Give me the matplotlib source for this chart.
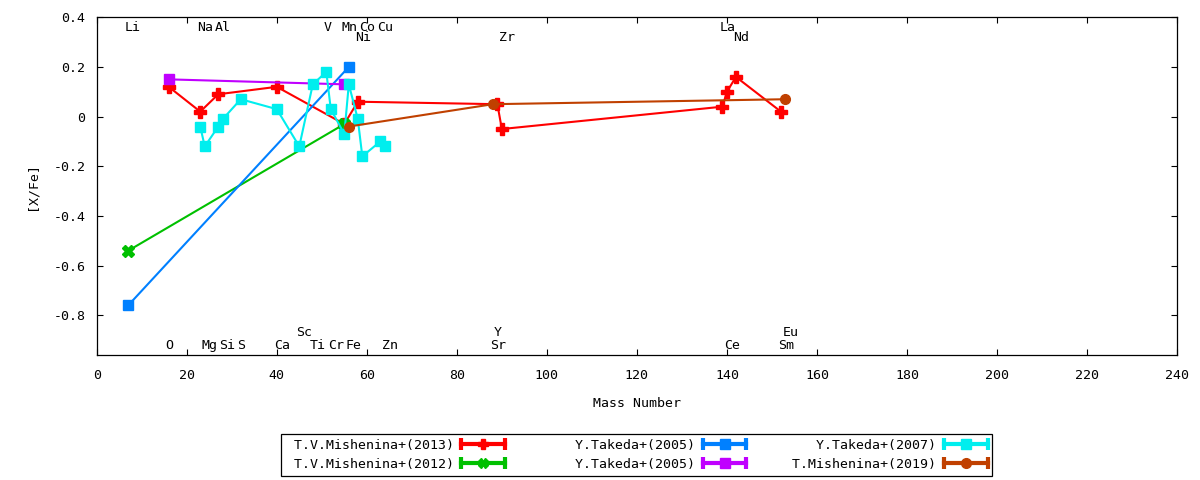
import matplotlib
matplotlib.use('Agg')
import matplotlib.pyplot as plt
from matplotlib.lines import Line2D
from matplotlib.legend_handler import HandlerBase

plt.rcParams['font.family'] = ['DejaVu Sans Mono']
plt.rcParams['font.size'] = 9.5

# abundance data: mass number vs [X/Fe]
mish13_mass = [16, 23, 27, 40, 55, 58, 89, 90, 139, 140, 142, 152]
mish13_val = [0.12, 0.02, 0.09, 0.12, -0.03, 0.06, 0.05, -0.05, 0.04, 0.10, 0.16, 0.02]

mish12_mass = [7, 55]
mish12_val = [-0.54, -0.03]

takeda05a_mass = [7, 56]
takeda05a_val = [-0.76, 0.20]

takeda05b_mass = [16, 55]
takeda05b_val = [0.15, 0.13]

takeda07_mass = [23, 24, 27, 28, 32, 40, 45, 48, 51, 52, 55, 56, 58, 59, 63, 64]
takeda07_val = [-0.04, -0.12, -0.04, -0.01, 0.07, 0.03, -0.12, 0.13, 0.18, 0.03,
                -0.07, 0.13, -0.01, -0.16, -0.10, -0.12]

mish19_mass = [56, 88, 153]
mish19_val = [-0.04, 0.05, 0.07]

# element labels, one list per row (name, mass number)
top_row1 = [('Li', 7), ('Na', 23), ('Al', 27), ('V', 51), ('Mn', 55), ('Co', 59), ('Cu', 63), ('La', 139)]
top_row2 = [('Ni', 58), ('Zr', 90), ('Nd', 142)]
bot_row1 = [('Sc', 45), ('Y', 89), ('Eu', 153)]
bot_row2 = [('O', 16), ('Mg', 24), ('Si', 28), ('S', 32), ('Ca', 40), ('Ti', 48), ('Cr', 52),
            ('Fe', 56), ('Zn', 64), ('Sr', 88), ('Ce', 140), ('Sm', 152)]


class CapHandler(HandlerBase):
    # gnuplot-like key sample: line with end caps and a centre marker
    def create_artists(self, legend, orig_handle, xdescent, ydescent,
                       width, height, fontsize, trans):
        c = orig_handle.get_color()
        y = height / 2 - ydescent
        x0, x1 = -xdescent, -xdescent + width
        ln = Line2D([x0, x1], [y, y], color=c, lw=3)
        caps = Line2D([x0, x1], [y, y], ls='none', marker='|', ms=8, mew=3, color=c)
        mk = Line2D([(x0 + x1) / 2], [y], ls='none', marker=orig_handle.get_marker(),
                    ms=7, color=c)
        for a in (ln, caps, mk):
            a.set_transform(trans)
        return [ln, caps, mk]


fig = plt.figure(figsize=(12, 4.8), dpi=100)
ax = fig.add_axes([0.0806, 0.2604, 0.9003, 0.7036])

series = [
    (mish13_mass, mish13_val, '#ff0000', 'P', 8, 'T.V.Mishenina+(2013)'),
    (mish12_mass, mish12_val, '#00c000', 'X', 8, 'T.V.Mishenina+(2012)'),
    (takeda05a_mass, takeda05a_val, '#0080ff', 's', 7, 'Y.Takeda+(2005)'),
    (takeda05b_mass, takeda05b_val, '#c000ff', 's', 7, 'Y.Takeda+(2005)'),
    (takeda07_mass, takeda07_val, '#00eeee', 's', 7, 'Y.Takeda+(2007)'),
    (mish19_mass, mish19_val, '#c04000', 'o', 7, 'T.Mishenina+(2019)'),
]
handles = []
for m, v, c, mk, ms, lab in series:
    # pad labels so all key columns get the same width, like gnuplot
    h, = ax.plot(m, v, color=c, marker=mk, ms=ms, lw=1.5, label=lab.rjust(21))
    handles.append(h)

for row, yy in ((top_row1, 0.357), (top_row2, 0.317), (bot_row1, -0.868), (bot_row2, -0.921)):
    for name, mass in row:
        ax.text(mass - 0.7, yy, name, ha='left', va='center')

ax.set_xlim(0, 240)
ax.set_ylim(-0.96, 0.4)
ax.set_xticks(range(0, 241, 20))
ax.set_yticks([0.4, 0.2, 0, -0.2, -0.4, -0.6, -0.8])
ax.set_yticklabels(['0.4', '0.2', '0', '-0.2', '-0.4', '-0.6', '-0.8'])
ax.tick_params(direction='in', top=True, right=True, length=4, width=0.8)
ax.tick_params(axis='x', pad=10)
ax.tick_params(axis='y', pad=8)
for s in ax.spines.values():
    s.set_linewidth(0.9)

ax.set_xlabel('Mass Number', va='center')
ax.xaxis.set_label_coords(0.5, -0.145)
ax.set_ylabel('[X/Fe]', va='center')
ax.yaxis.set_label_coords(-0.06, 0.5)

leg = fig.legend(handles=handles, loc='center', bbox_to_anchor=(0.5305, 0.052), ncol=3,
                 markerfirst=False, handler_map={Line2D: CapHandler()},
                 handlelength=3.3, handletextpad=0.6, columnspacing=1.66,
                 labelspacing=0.45, borderpad=0.35, fancybox=False, framealpha=1)
leg.get_frame().set_edgecolor('black')
leg.get_frame().set_linewidth(0.9)

fig.savefig('out.png', dpi=100)
